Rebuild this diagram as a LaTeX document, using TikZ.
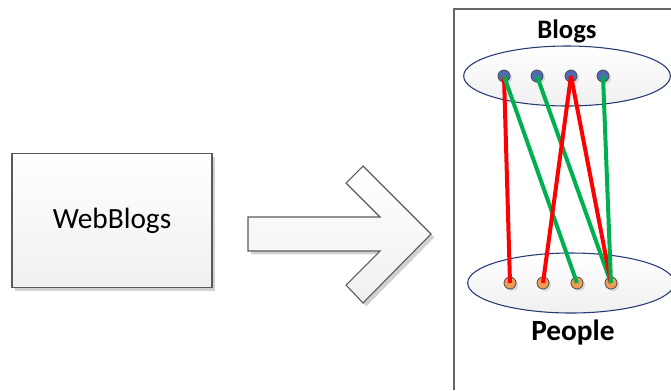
\documentclass[tikz,border=0pt]{standalone}
\usepackage{fontspec}
\setmainfont{Carlito}
\usepackage{tikz}
\usetikzlibrary{positioning}
\usetikzlibrary{shapes.geometric}
\usetikzlibrary{shadows}
\definecolor{blogblue}{HTML}{4E6BB4}
\definecolor{persorange}{HTML}{EE9B55}
\definecolor{linkred}{HTML}{FF0000}
\definecolor{linkgreen}{HTML}{00B050}
\definecolor{rimnavy}{HTML}{243A73}
\tikzset{
  softfill/.style = {top color=white, bottom color=black!6},
  softshadow/.style = {drop shadow={shadow xshift=2.5pt, shadow yshift=-2.5pt, fill=black!18, opacity=1}},
  groupoval/.style = {ellipse, draw=rimnavy, line width=0.8pt, softfill, inner sep=0pt,
                      minimum width=155pt, minimum height=45pt},
  dot/.style = {circle, draw=black!70, line width=0.6pt, inner sep=0pt, minimum size=9pt,
                drop shadow={shadow xshift=1.5pt, shadow yshift=-1.5pt, fill=black!15, opacity=1}},
  link/.style = {line width=3pt}
}

\begin{document}
\begin{tikzpicture}[x=0.75pt, y=-0.75pt]
\useasboundingbox (0, 0) rectangle (671, 390);

% source box
\node [rectangle, draw=black!65, line width=0.8pt, softfill, softshadow,
       minimum width=150pt, minimum height=100pt, font=\fontsize{22}{26}\selectfont] (web) at (112, 220.5) {WebBlogs};

% big arrow
\draw [draw=black!65, line width=0.8pt, softfill, softshadow]
  (248, 217) -- (380, 217) -- (346, 183) -- (363, 166) -- (431, 234)
  -- (363, 303) -- (346, 285) -- (380, 251) -- (248, 251) -- cycle;

% result panel
\draw [draw=black!60, line width=1.2pt] (671, 9) -- (454, 9) -- (454, 390);

\node [groupoval] (blogs) at (567, 76) {};
\node [groupoval] (people) at (571, 283) {};
\node [font=\fontsize{20}{24}\selectfont\bfseries] (blogslbl) at (567, 31) {Blogs};
\node [font=\fontsize{22}{26}\selectfont\bfseries] (peoplelbl) at (573, 333) {People};

% blog dots
\node [dot, fill=blogblue] (b1) at (504, 76) {};
\node [dot, fill=blogblue] (b2) at (537, 76) {};
\node [dot, fill=blogblue] (b3) at (571, 76) {};
\node [dot, fill=blogblue] (b4) at (603, 76) {};

% people dots
\node [dot, fill=persorange] (p1) at (510, 283) {};
\node [dot, fill=persorange] (p2) at (543, 283) {};
\node [dot, fill=persorange] (p3) at (577, 283) {};
\node [dot, fill=persorange] (p4) at (611, 283) {};

\draw [link, draw=linkred] (b1.center) to (p1.center);
\draw [link, draw=linkgreen] (b1.center) to (p3.center);
\draw [link, draw=linkgreen] (b2.center) to (p4.center);
\draw [link, draw=linkred] (b3.center) to (p2.center);
\draw [link, draw=linkred] (b3.center) to (p4.center);
\draw [link, draw=linkgreen] (b4.center) to (p4.center);
\end{tikzpicture}
\end{document}
